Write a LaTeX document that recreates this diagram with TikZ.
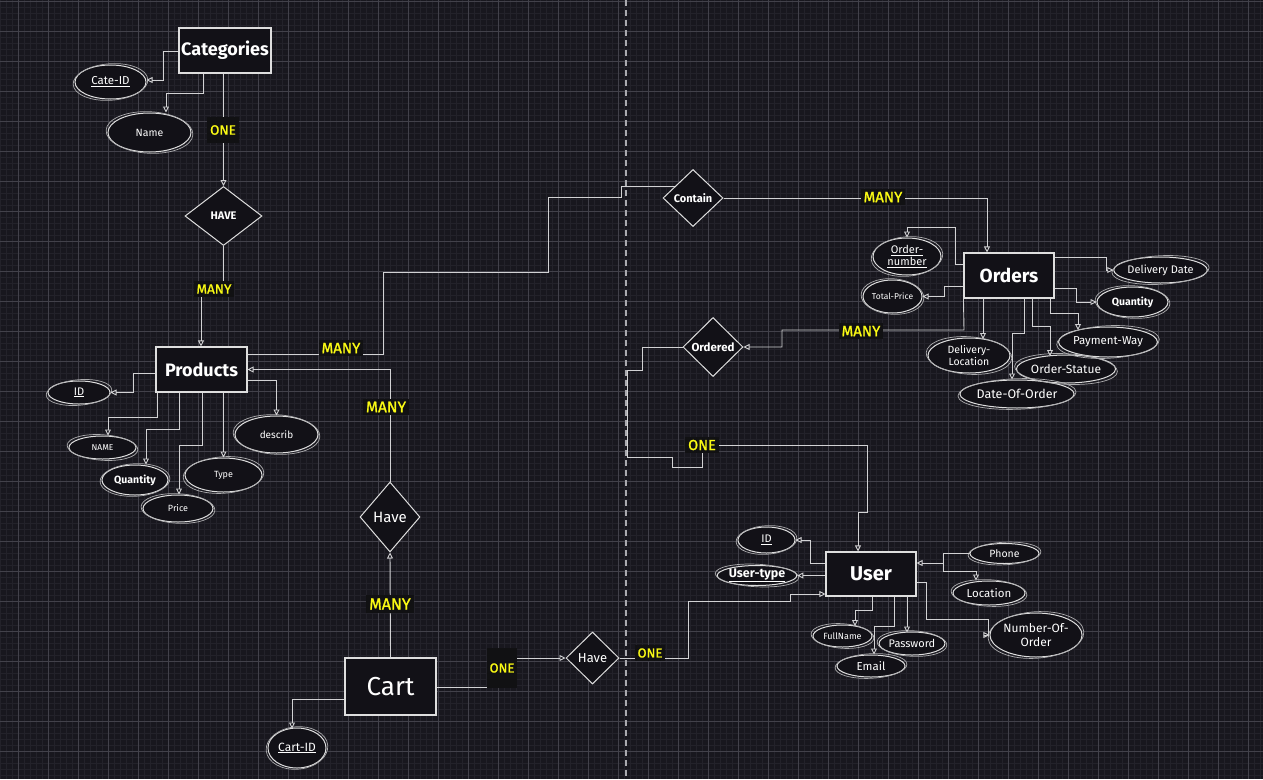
\documentclass[tikz,border=0pt]{standalone}
\usepackage{fontspec}
\setmainfont{Fira Sans}
\newfontfamily\lblfont{Fira Sans}[FakeBold=1.2]
\usetikzlibrary{shapes.geometric,arrows.meta,calc}
\definecolor{bg}{RGB}{24,23,30}
\definecolor{minorg}{RGB}{35,34,42}
\definecolor{majorg}{RGB}{66,65,74}
\definecolor{ink}{RGB}{222,222,222}
\definecolor{wire}{RGB}{210,210,212}
\definecolor{boxfill}{RGB}{18,17,23}
\definecolor{lblbg}{RGB}{17,17,19}
\definecolor{yel}{RGB}{250,250,20}
\definecolor{dashc}{RGB}{170,170,175}
\newcommand\fsz[2]{\fontsize{#1}{#2}\selectfont}
\begin{document}
\begin{tikzpicture}[x=1pt,y=-1pt,
  ent/.style={draw=ink, fill=boxfill, line width=1.1pt, text=white, inner sep=0pt, font=\bfseries},
  attr/.style={ellipse, draw=ink, fill=boxfill, line width=1pt, text=white, inner sep=0pt, align=center},
  rel/.style={diamond, draw=ink, fill=boxfill, line width=1pt, text=white, inner sep=0pt},
  lbl/.style={fill=lblbg, text=yel, inner sep=3pt},
  conn/.style={draw=wire, line width=0.9pt},
  arr/.style={conn, -{Triangle[open,length=6pt,width=6pt]}},
  sketch/.style={draw=ink!75!bg, line width=0.7pt}
]
\useasboundingbox (0,0) rectangle (1263,779);
\fill[bg] (0,0) rectangle (1263,779);
% grid
\foreach \i in {0,...,210} \draw[minorg, line width=0.7pt] ({0.3+6*\i},0) -- ++(0,779);
\foreach \j in {0,...,129} \draw[minorg, line width=0.7pt] (0,{1.7+6*\j}) -- ++(1263,0);
\foreach \i in {0,...,41} \draw[majorg, line width=0.8pt] ({18.3+30*\i},0) -- ++(0,779);
\foreach \j in {0,...,25} \draw[majorg, line width=0.8pt] (0,{1.7+30*\j}) -- ++(1263,0);
\draw[dashc, line width=1.3pt, dash pattern=on 6pt off 4pt] (626,0) -- (626,779);

% ---------- entities ----------
\node[ent, minimum width=92pt, minimum height=45pt, font=\bfseries\fsz{18}{20}] (Categories) at (225,50.5) {Categories};
\node[ent, minimum width=91pt, minimum height=45pt, font=\bfseries\fsz{18}{20}] (Products) at (201.5,369.5) {Products};
\node[ent, minimum width=90pt, minimum height=45pt, font=\bfseries\fsz{19}{21}] (Orders) at (1009,275.5) {Orders};
\node[ent, minimum width=90pt, minimum height=44pt, font=\bfseries\fsz{20}{22}] (User) at (871,574) {User};
\node[ent, minimum width=91pt, minimum height=57pt, font=\mdseries\fsz{26}{28}] (Cart) at (390.5,686.5) {Cart};

% ---------- relationships ----------
\node[rel, minimum width=77pt, minimum height=59pt, font=\bfseries\fsz{11}{13}] (HAVE) at (223.5,216) {HAVE};
\node[rel, minimum width=60pt, minimum height=57pt, font=\bfseries\fsz{11}{13}] (Contain) at (693,198) {Contain};
\node[rel, minimum width=60pt, minimum height=59pt, font=\bfseries\fsz{11.5}{13}] (Ordered) at (713,347) {Ordered};
\node[rel, minimum width=60pt, minimum height=70pt, font=\fsz{15}{17}] (HaveA) at (390,517) {Have};
\node[rel, minimum width=53pt, minimum height=52pt, font=\fsz{13}{15}] (HaveB) at (592.5,658) {Have};

% ---------- attributes ----------
\node[attr, minimum width=71pt, minimum height=34pt, font=\fsz{11.5}{13}] (CateID) at (110.5,82) {\underline{Cate-ID}};
\node[attr, minimum width=83pt, minimum height=39pt, font=\fsz{10.5}{12}] (CName) at (149.5,132.5) {Name};

\node[attr, minimum width=62pt, minimum height=23pt, font=\fsz{11}{12}] (PID) at (79,392.5) {\underline{ID}};
\node[attr, minimum width=67pt, minimum height=23pt, font=\fsz{8.5}{10}] (PName) at (102.5,447.5) {NAME};
\node[attr, minimum width=66pt, minimum height=30pt, font=\bfseries\fsz{10.5}{12}] (PQty) at (135,480) {Quantity};
\node[attr, minimum width=70pt, minimum height=27pt, font=\fsz{9}{10}] (PPrice) at (178,508.5) {Price};
\node[attr, minimum width=77pt, minimum height=34pt, font=\fsz{9}{10}] (PType) at (223.5,475) {Type};
\node[attr, minimum width=83pt, minimum height=37pt, font=\fsz{10}{12}] (PDesc) at (276.5,434.5) {describ};

\node[attr, minimum width=68pt, minimum height=37pt, font=\fsz{11}{12.5}] (OrdNum) at (907,256.5) {\underline{Order-}\\\underline{number}};
\node[attr, minimum width=59pt, minimum height=33pt, font=\fsz{8.5}{10}] (TotPr) at (892.5,296.5) {Total-Price};
\node[attr, minimum width=75pt, minimum height=26pt, font=\fsz{11}{12}] (DelDate) at (1160.5,270) {Delivery Date};
\node[attr, minimum width=71pt, minimum height=30pt, font=\bfseries\fsz{10.5}{12}] (OQty) at (1132.5,302) {Quantity};
\node[attr, minimum width=82pt, minimum height=30pt, font=\fsz{11.5}{13}] (PayWay) at (1108,342) {Payment-Way};
\node[attr, minimum width=84pt, minimum height=28pt, font=\fsz{12}{13}] (OrdStat) at (1066,369) {Order-Statue};
\node[attr, minimum width=90pt, minimum height=28pt, font=\fsz{12.5}{14}] (DateOrd) at (1017,394) {Date-Of-Order};
\node[attr, minimum width=82pt, minimum height=35pt, font=\fsz{10.5}{12.5}] (DelLoc) at (969,355.5) {Delivery-\\Location};

\node[attr, minimum width=57pt, minimum height=26pt, font=\fsz{11}{12}] (UID) at (766.5,540) {\underline{ID}};
\node[attr, minimum width=68pt, minimum height=20pt, font=\bfseries\fsz{12.5}{14}] (UType) at (757,575.5) {\underline{User-type}};
\node[attr, minimum width=69pt, minimum height=20pt, font=\fsz{10.5}{12}] (Phone) at (1004.5,553.5) {Phone};
\node[attr, minimum width=72pt, minimum height=24pt, font=\fsz{11.5}{13}] (Loc) at (989,593) {Location};
\node[attr, minimum width=86pt, minimum height=44pt, font=\fsz{12}{14}] (NumOrd) at (1036,635) {Number-Of-\\Order};
\node[attr, minimum width=59pt, minimum height=22pt, font=\fsz{9}{10}] (FullN) at (842.5,636) {FullName};
\node[attr, minimum width=68pt, minimum height=22pt, font=\fsz{11.5}{13}] (Email) at (871,666) {Email};
\node[attr, minimum width=60pt, minimum height=23pt, font=\fsz{11}{12}] (Pass) at (912,643.5) {Password};

\node[attr, minimum width=58pt, minimum height=40pt, font=\fsz{12}{13}] (CartID) at (297,748) {\underline{Cart-ID}};

% hand-drawn second stroke round each attribute
\foreach \q/\a in {CateID/4, CName/-3, PID/5, PName/-4, PQty/3, PPrice/-3, PType/4, PDesc/-3,
  OrdNum/5, TotPr/-4, DelDate/3, OQty/-3, PayWay/3, OrdStat/-3, DateOrd/2, DelLoc/-4,
  UID/4, UType/-3, Phone/3, Loc/-3, NumOrd/4, FullN/-4, Email/3, Pass/-3, CartID/5}
  \draw[sketch, rotate around={\a:(\q.center)}] let \p1=(\q.east), \p2=(\q.center), \p3=(\q.north) in
    (\q.center) ellipse [x radius={\x1-\x2+1.5pt}, y radius={abs(\y3-\y2)+0.8pt}];

% ---------- connectors ----------
% Categories
\draw[arr] (Categories.west |- 0,51) -- (163,51) -- (163,80) -- (CateID.east |- 0,80);
\draw[arr] (Categories.south -| 203,0) -- (203,93) -- (166,93) -- (CName.north -| 166,0);
\draw[arr] (Categories.south -| HAVE.north) -- (HAVE.north);
\draw[arr] (HAVE.south) -- (223.5,289) -- (201,289) -- (Products.north -| 201,0);
% Products attributes
\draw[arr] (Products.west |- 0,373) -- (133,373) -- (133,392.5) -- (PID.east);
\draw[arr] (Products.south -| 157,0) -- (157,417) -- (108,417) -- (PName.north -| 108,0);
\draw[arr] (Products.south -| 179,0) -- (179,429) -- (146,429) -- (PQty.north -| 146,0);
\draw[arr] (Products.south -| 202,0) -- (202,445) -- (179,445) -- (PPrice.north -| 179,0);
\draw[arr] (Products.south -| PType.north) -- (PType.north);
\draw[arr] (Products.east |- 0,380) -- (276.5,380) -- (PDesc.north);
% Products - Contain - Orders
\draw[conn] (Products.east |- 0,354) -- (383,354) -- (383,272) -- (548,272) -- (548,197) -- (621,197) -- (621,186) -- (675,186);
\draw[arr] (Contain.east) -- (987,198) -- (Orders.north -| 987,0);
% Orders attributes
\draw[arr] (Orders.west |- 0,264) -- (955,264) -- (955,227) -- (907,227) -- (OrdNum.north);
\draw[arr] (Orders.west |- 0,286) -- (944,286) -- (944,296.5) -- (TotPr.east);
\draw[arr] (Orders.east |- 0,257) -- (1106,257) -- (1106,270) -- (DelDate.west);
\draw[arr] (Orders.east |- 0,288) -- (1076,288) -- (1076,302) -- (OQty.west);
\draw[arr] (Orders.south -| 1050,0) -- (1050,313) -- (1078,313) -- (1078,330);
\draw[arr] (Orders.south -| 1032,0) -- (1032,326) -- (1050,326) -- (1050,356);
\draw[arr] (Orders.south -| 1024,0) -- (1024,333) -- (1012,333) -- (DateOrd.north -| 1012,0);
\draw[arr] (Orders.south -| 983,0) -- (983,339);
% Orders - Ordered - User
\draw[arr] (Orders.south west) -- (964,330) -- (782,330) -- (782,347) -- (Ordered.east);
\draw[arr] (Ordered.west) -- (642,347) -- (642,370) -- (627,370) -- (627,457) -- (672,457) -- (672,467) -- (702,467) -- (702,445) -- (867,445) -- (867,512) -- (858,512) -- (User.north -| 858,0);
% User attributes
\draw[arr] (User.west |- 0,563) -- (810,563) -- (810,540) -- (UID.east);
\draw[arr] (User.west |- UType.east) -- (UType.east);
\draw[arr] (Phone.west) -- (943,553.5) -- (943,563) -- (User.east |- 0,563);
\draw[arr] (Phone.west) -- (943,553.5) -- (943,571) -- (976,571) -- (Loc.north -| 976,0);
\draw[arr] (User.east |- 0,582) -- (926,582) -- (926,619) -- (988,619) -- (988,635) -- (NumOrd.west);
\draw[arr] (User.south -| 872,0) -- (872,610) -- (855,610) -- (855,626);
\draw[arr] (User.south -| 894,0) -- (894,626) -- (874,626) -- (Email.north -| 874,0);
\draw[arr] (User.south -| 907,0) -- (907,632.5);
% Cart
\draw[arr] (Cart.west |- 0,699) -- (292,699) -- (292,728.5);
\draw[arr] (Cart.east |- 0,687) -- (500,687) -- (500,658) -- (HaveB.west);
\draw[arr] (HaveB.east) -- (688,658) -- (688,601) -- (790,601) -- (790,594) -- (User.west |- 0,594);
\draw[arr] (Cart.north) -- (HaveA.south);
\draw[arr] (HaveA.north) -- (390,369.5) -- (Products.east);

% ---------- cardinality labels ----------
\node[lbl, font=\lblfont\fsz{13.5}{15}, minimum height=26pt] (L1) at (223,130) {ONE};
\node[lbl, font=\lblfont\fsz{13.5}{15}] (L2) at (214,289) {MANY};
\node[lbl, font=\lblfont\fsz{15}{17}] (L3) at (341,348) {MANY};
\node[lbl, font=\lblfont\fsz{15}{17}] (L4) at (883,197) {MANY};
\node[lbl, font=\lblfont\fsz{15}{17}] (L5) at (861,331) {MANY};
\node[lbl, font=\lblfont\fsz{14.5}{16}] (L6) at (702,445) {ONE};
\node[lbl, font=\lblfont\fsz{15.5}{17}] (L7) at (386,407) {MANY};
\node[lbl, font=\lblfont\fsz{16}{18}] (L8) at (390,604) {MANY};
\node[lbl, font=\lblfont\fsz{13}{15}] (L9) at (650,653) {ONE};
\node[lbl, font=\lblfont\fsz{13}{15}, minimum height=40pt] (L10) at (502,668) {ONE};
\end{tikzpicture}
\end{document}
